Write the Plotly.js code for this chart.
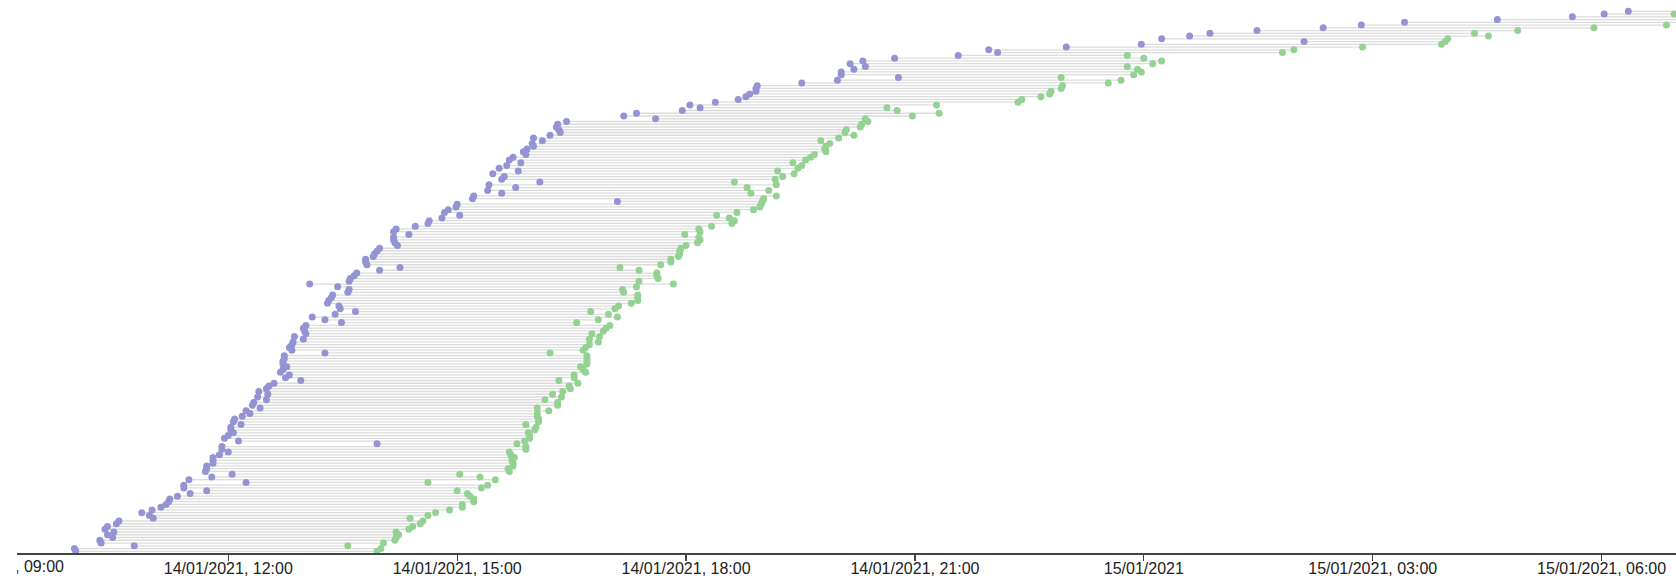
<!DOCTYPE html>
<html>
<head>
<meta charset="utf-8">
<script src="https://cdn.plot.ly/plotly-3.0.1.min.js"></script>
<style>
  html, body { margin: 0; padding: 0; background: #fff; }
  #wrap { position: relative; width: 1676px; height: 585px; overflow: hidden; }
  #chart { width: 1676px; height: 585px; }
  #edge { position: absolute; left: 0; top: 554px; width: 17px; height: 31px; background: #fff; }
</style>
</head>
<body>
<div id="wrap"><div id="chart"></div><div id="edge"></div></div>
<script>
// Rows listed from the top of the chart to the bottom.
const startTimes = [
"2021-01-15 06:21","2021-01-15 06:02","2021-01-15 05:37","2021-01-15 04:38","2021-01-15 03:25",
"2021-01-15 02:51","2021-01-15 02:21","2021-01-15 01:29","2021-01-15 00:52","2021-01-15 00:36",
"2021-01-15 00:14","2021-01-15 02:06","2021-01-14 23:58","2021-01-14 22:59","2021-01-14 21:58",
"2021-01-14 22:05","2021-01-14 21:34","2021-01-14 20:44","2021-01-14 20:19","2021-01-14 20:09",
"2021-01-14 20:21","2021-01-14 20:12","2021-01-14 20:02","2021-01-14 20:02","2021-01-14 20:47",
"2021-01-14 19:59","2021-01-14 19:31","2021-01-14 18:56","2021-01-14 18:55","2021-01-14 18:55",
"2021-01-14 18:50","2021-01-14 18:47","2021-01-14 18:41","2021-01-14 18:23","2021-01-14 18:03",
"2021-01-14 18:11","2021-01-14 17:57","2021-01-14 17:21","2021-01-14 17:11","2021-01-14 17:36",
"2021-01-14 16:26","2021-01-14 16:19","2021-01-14 16:18","2021-01-14 16:20","2021-01-14 16:21",
"2021-01-14 16:13","2021-01-14 16:00","2021-01-14 16:07","2021-01-14 15:59","2021-01-14 16:00",
"2021-01-14 15:55","2021-01-14 15:52","2021-01-14 15:54","2021-01-14 15:44","2021-01-14 15:41",
"2021-01-14 15:50","2021-01-14 15:39","2021-01-14 15:33","2021-01-14 15:48","2021-01-14 15:28",
"2021-01-14 15:37","2021-01-14 15:35","2021-01-14 16:05","2021-01-14 15:25","2021-01-14 15:46",
"2021-01-14 15:24","2021-01-14 15:35","2021-01-14 15:13","2021-01-14 15:12","2021-01-14 17:06",
"2021-01-14 15:00","2021-01-14 14:59","2021-01-14 14:53","2021-01-14 14:50","2021-01-14 15:02",
"2021-01-14 14:48","2021-01-14 14:38","2021-01-14 14:37","2021-01-14 14:27","2021-01-14 14:12",
"2021-01-14 14:10","2021-01-14 14:22","2021-01-14 14:10","2021-01-14 14:10","2021-01-14 14:11",
"2021-01-14 14:13","2021-01-14 13:59","2021-01-14 13:57","2021-01-14 13:55","2021-01-14 13:54",
"2021-01-14 13:48","2021-01-14 13:48","2021-01-14 13:49","2021-01-14 14:15","2021-01-14 13:59",
"2021-01-14 13:41","2021-01-14 13:39","2021-01-14 13:36","2021-01-14 13:35","2021-01-14 13:04",
"2021-01-14 13:26","2021-01-14 13:35","2021-01-14 13:34","2021-01-14 13:22","2021-01-14 13:21",
"2021-01-14 13:19","2021-01-14 13:18","2021-01-14 13:27","2021-01-14 13:28","2021-01-14 13:40",
"2021-01-14 13:24","2021-01-14 13:06","2021-01-14 13:16","2021-01-14 13:29","2021-01-14 13:01",
"2021-01-14 12:59","2021-01-14 13:00","2021-01-14 13:01","2021-01-14 12:52","2021-01-14 12:59",
"2021-01-14 12:51","2021-01-14 12:50","2021-01-14 12:48","2021-01-14 12:50","2021-01-14 13:16",
"2021-01-14 12:44","2021-01-14 12:44","2021-01-14 12:43","2021-01-14 12:43","2021-01-14 12:46",
"2021-01-14 12:43","2021-01-14 12:41","2021-01-14 12:48","2021-01-14 12:45","2021-01-14 12:57",
"2021-01-14 12:36","2021-01-14 12:32","2021-01-14 12:30","2021-01-14 12:24","2021-01-14 12:31",
"2021-01-14 12:23","2021-01-14 12:30","2021-01-14 12:20","2021-01-14 12:19","2021-01-14 12:25",
"2021-01-14 12:14","2021-01-14 12:17","2021-01-14 12:11","2021-01-14 12:05","2021-01-14 12:04",
"2021-01-14 12:10","2021-01-14 12:02","2021-01-14 12:02","2021-01-14 12:04","2021-01-14 12:00",
"2021-01-14 11:57","2021-01-14 12:08","2021-01-14 13:57","2021-01-14 11:55","2021-01-14 11:55",
"2021-01-14 12:00","2021-01-14 11:53","2021-01-14 11:48","2021-01-14 11:48","2021-01-14 11:48",
"2021-01-14 11:43","2021-01-14 11:43","2021-01-14 11:42","2021-01-14 12:03","2021-01-14 11:47",
"2021-01-14 11:29","2021-01-14 12:14","2021-01-14 11:25","2021-01-14 11:25","2021-01-14 11:43",
"2021-01-14 11:30","2021-01-14 11:20","2021-01-14 11:14","2021-01-14 11:13","2021-01-14 11:11",
"2021-01-14 11:07","2021-01-14 11:00","2021-01-14 10:52","2021-01-14 10:58","2021-01-14 11:01",
"2021-01-14 10:34","2021-01-14 10:32","2021-01-14 10:25","2021-01-14 10:23","2021-01-14 10:30",
"2021-01-14 10:25","2021-01-14 10:29","2021-01-14 10:19","2021-01-14 10:20","2021-01-14 10:46",
"2021-01-14 09:59","2021-01-14 10:00"
];
const endTimes = [
"2021-01-15 07:33","2021-01-15 06:57","2021-01-15 07:17","2021-01-15 07:09","2021-01-15 07:06",
"2021-01-15 06:51","2021-01-15 05:54","2021-01-15 04:54","2021-01-15 04:20","2021-01-15 04:31",
"2021-01-15 03:59","2021-01-15 03:57","2021-01-15 03:54","2021-01-15 02:52","2021-01-15 01:58",
"2021-01-15 01:49","2021-01-14 23:47","2021-01-15 00:00","2021-01-15 00:14","2021-01-15 00:07",
"2021-01-14 23:47","2021-01-14 23:55","2021-01-14 23:58","2021-01-14 23:52","2021-01-14 22:55",
"2021-01-14 23:42","2021-01-14 23:32","2021-01-14 22:56","2021-01-14 22:55","2021-01-14 22:47",
"2021-01-14 22:46","2021-01-14 22:39","2021-01-14 22:24","2021-01-14 22:21","2021-01-14 21:17",
"2021-01-14 20:38","2021-01-14 20:46","2021-01-14 21:19","2021-01-14 20:58","2021-01-14 20:21",
"2021-01-14 20:23","2021-01-14 20:18","2021-01-14 20:17","2021-01-14 20:06","2021-01-14 20:05",
"2021-01-14 20:12","2021-01-14 20:00","2021-01-14 19:46","2021-01-14 19:53","2021-01-14 19:50",
"2021-01-14 19:49","2021-01-14 19:50","2021-01-14 19:41","2021-01-14 19:38","2021-01-14 19:34",
"2021-01-14 19:24","2021-01-14 19:31","2021-01-14 19:28","2021-01-14 19:12","2021-01-14 19:25",
"2021-01-14 19:16","2021-01-14 19:10","2021-01-14 18:38","2021-01-14 19:11","2021-01-14 18:48",
"2021-01-14 19:05","2021-01-14 18:51","2021-01-14 19:11","2021-01-14 19:01","2021-01-14 19:00",
"2021-01-14 18:59","2021-01-14 18:58","2021-01-14 18:53","2021-01-14 18:40","2021-01-14 18:24",
"2021-01-14 18:34","2021-01-14 18:38","2021-01-14 18:36","2021-01-14 18:20","2021-01-14 18:10",
"2021-01-14 18:11","2021-01-14 17:59","2021-01-14 18:10","2021-01-14 18:11","2021-01-14 18:09",
"2021-01-14 18:00","2021-01-14 17:56","2021-01-14 17:55","2021-01-14 17:55","2021-01-14 17:54",
"2021-01-14 17:48","2021-01-14 17:48","2021-01-14 17:40","2021-01-14 17:08","2021-01-14 17:23",
"2021-01-14 17:37","2021-01-14 17:37","2021-01-14 17:38","2021-01-14 17:23","2021-01-14 17:50",
"2021-01-14 17:21","2021-01-14 17:10","2021-01-14 17:11","2021-01-14 17:22","2021-01-14 17:22",
"2021-01-14 17:22","2021-01-14 17:17","2021-01-14 17:07","2021-01-14 17:04","2021-01-14 16:45",
"2021-01-14 16:59","2021-01-14 17:06","2021-01-14 16:51","2021-01-14 16:34","2021-01-14 17:00",
"2021-01-14 16:57","2021-01-14 16:55","2021-01-14 16:46","2021-01-14 16:52","2021-01-14 16:44",
"2021-01-14 16:51","2021-01-14 16:44","2021-01-14 16:41","2021-01-14 16:39","2021-01-14 16:13",
"2021-01-14 16:42","2021-01-14 16:42","2021-01-14 16:42","2021-01-14 16:42","2021-01-14 16:37",
"2021-01-14 16:39","2021-01-14 16:41","2021-01-14 16:32","2021-01-14 16:32","2021-01-14 16:20",
"2021-01-14 16:35","2021-01-14 16:28","2021-01-14 16:29","2021-01-14 16:23","2021-01-14 16:15",
"2021-01-14 16:22","2021-01-14 16:09","2021-01-14 16:19","2021-01-14 16:19","2021-01-14 16:03",
"2021-01-14 16:12","2021-01-14 16:03","2021-01-14 16:03","2021-01-14 16:04","2021-01-14 16:04",
"2021-01-14 15:54","2021-01-14 16:02","2021-01-14 16:01","2021-01-14 15:56","2021-01-14 15:57",
"2021-01-14 15:57","2021-01-14 15:53","2021-01-14 15:47","2021-01-14 15:54","2021-01-14 15:54",
"2021-01-14 15:41","2021-01-14 15:42","2021-01-14 15:45","2021-01-14 15:43","2021-01-14 15:44",
"2021-01-14 15:44","2021-01-14 15:40","2021-01-14 15:41","2021-01-14 15:02","2021-01-14 15:18",
"2021-01-14 15:30","2021-01-14 14:37","2021-01-14 15:24","2021-01-14 15:19","2021-01-14 15:00",
"2021-01-14 15:08","2021-01-14 15:10","2021-01-14 15:13","2021-01-14 15:13","2021-01-14 15:04",
"2021-01-14 15:04","2021-01-14 14:54","2021-01-14 14:43","2021-01-14 14:37","2021-01-14 14:23",
"2021-01-14 14:33","2021-01-14 14:31","2021-01-14 14:25","2021-01-14 14:22","2021-01-14 14:12",
"2021-01-14 14:14","2021-01-14 14:12","2021-01-14 14:11","2021-01-14 14:02","2021-01-14 13:34",
"2021-01-14 14:00","2021-01-14 13:57"
];
const tickValues = [
"2021-01-14 09:00","2021-01-14 12:00","2021-01-14 15:00","2021-01-14 18:00",
"2021-01-14 21:00","2021-01-15 00:00","2021-01-15 03:00","2021-01-15 06:00"
];
const tickLabels = [
"14/01/2021, 09:00","14/01/2021, 12:00","14/01/2021, 15:00","14/01/2021, 18:00",
"14/01/2021, 21:00","15/01/2021","15/01/2021, 03:00","15/01/2021, 06:00"
];
const xRange = ["2021-01-14 09:13:50","2021-01-15 06:58:30"];

const n = startTimes.length;
const rowY = startTimes.map((_, i) => n - 1 - i);

const lx = [], ly = [];
for (let i = 0; i < n; i++) {
  lx.push(startTimes[i], endTimes[i], null);
  ly.push(rowY[i], rowY[i], null);
}

const traces = [
  { type: 'scatter', mode: 'lines', x: lx, y: ly,
    line: { color: '#dcdcdc', width: 1.3 }, hoverinfo: 'skip', showlegend: false },
  { type: 'scatter', mode: 'markers', x: startTimes, y: rowY, cliponaxis: false,
    marker: { color: '#9494d4', size: 7, line: { width: 0 } }, showlegend: false },
  { type: 'scatter', mode: 'markers', x: endTimes, y: rowY, cliponaxis: false,
    marker: { color: '#94d294', size: 7, line: { width: 0 } }, showlegend: false }
];

const toMs = s => Date.parse(s.replace(' ', 'T'));
const r0 = toMs(xRange[0]), r1 = toMs(xRange[1]);
const firstFrac = (toMs(tickValues[0]) - r0) / (r1 - r0);

const font = { family: '"Liberation Sans", Arial, Helvetica, sans-serif', size: 16, color: '#222' };

const layout = {
  width: 1676, height: 585,
  margin: { l: 17, r: 0, t: 0, b: 32, pad: 0 },
  paper_bgcolor: '#fff', plot_bgcolor: '#fff',
  showlegend: false, hovermode: false,
  font: font,
  xaxis: {
    type: 'date', range: xRange,
    tickmode: 'array', tickvals: tickValues.slice(1), ticktext: tickLabels.slice(1),
    showgrid: false, zeroline: false,
    showline: true, linecolor: '#444', linewidth: 1.5,
    ticks: 'outside', ticklen: 6, tickwidth: 1.2, tickcolor: '#444',
    ticklabelstandoff: -6,
    tickfont: font
  },
  yaxis: {
    range: [-0.62, 200.1], visible: false, showgrid: false, zeroline: false, fixedrange: true
  },
  annotations: [{
    text: tickLabels[0], xref: 'paper', yref: 'paper', x: firstFrac, y: 0,
    xanchor: 'center', yanchor: 'top', yshift: -3, showarrow: false, font: font
  }]
};

Plotly.newPlot('chart', traces, layout, { displayModeBar: false, staticPlot: true });
</script>
</body>
</html>
